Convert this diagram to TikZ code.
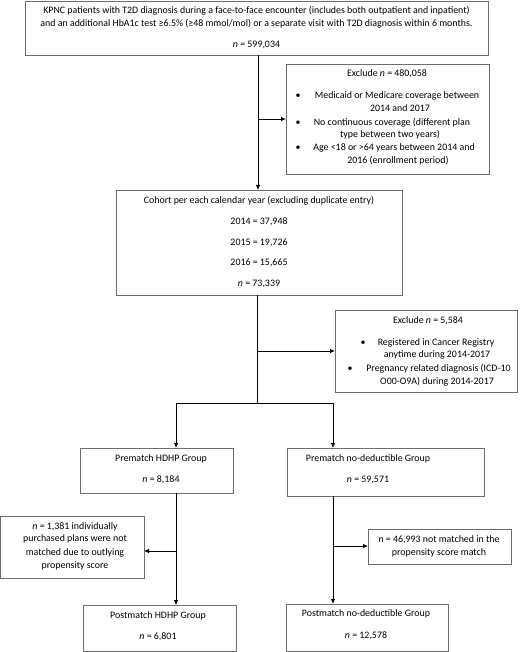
\documentclass[tikz,border=0pt]{standalone}
\usepackage{fontspec}
\setmainfont{Carlito}
\usetikzlibrary{arrows.meta}
\definecolor{boxgray}{HTML}{6E6E6E}
\tikzset{
  boxline/.style={draw=boxgray, line width=0.9pt},
  txt/.style={inner sep=0pt, align=center, font=\fontsize{9.9}{11}\selectfont},
  bul/.style={inner sep=0pt, font=\fontsize{9.9}{11}\selectfont},
  conn/.style={line width=0.8pt, black},
  arr/.style={conn, -{Latex[length=5pt,width=4.5pt]}}
}
\begin{document}
\begin{tikzpicture}[x=1pt,y=-1pt]
\useasboundingbox (0,0) rectangle (520,652);
% top box
\draw[boxline] (25,1) rectangle (488,55);
\node[txt] (t1) at (256.5,11) {KPNC patients with T2D diagnosis during a face-to-face encounter (includes both outpatient and inpatient)};
\node[txt] (t2) at (256.5,24) {and an additional HbA1c test ≥6.5\% (≥48 mmol/mol) or a separate visit with T2D diagnosis within 6 months.};
\node[txt] (t3) at (256.5,45) {\textit{n} = 599,034};
\coordinate (topb) at (258,55);

% exclude 1
\draw[boxline] (286,64) rectangle (489,174);
\coordinate (ex1l) at (286,119);
\node[txt] (e1) at (387,74) {Exclude \textit{n} = 480,058};
\node[bul] (b1) at (298,96) {•};
\node[txt] (e1a) at (397,96) {Medicaid or Medicare coverage between};
\node[txt] (e1b) at (400,108) {2014 and 2017};
\node[bul] (b2) at (298,123) {•};
\node[txt] (e1c) at (392,123) {No continuous coverage (different plan};
\node[txt] (e1d) at (390,135) {type between two years)};
\node[bul] (b3) at (298,148) {•};
\node[txt] (e1e) at (394,148) {Age <18 or >64 years between 2014 and};
\node[txt] (e1f) at (398,161) {2016 (enrollment period)};

% cohort
\draw[boxline] (116,190) rectangle (402,295);
\coordinate (cohT) at (258,190);
\coordinate (cohB) at (257,295);
\node[txt] (c1) at (259,201) {Cohort per each calendar year (excluding duplicate entry)};
\node[txt] (c2) at (259,222) {2014 = 37,948};
\node[txt] (c3) at (259,243) {2015 = 19,726};
\node[txt] (c4) at (259,263) {2016 = 15,665};
\node[txt] (c5) at (259,284) {\textit{n} = 73,339};

% exclude 2
\draw[boxline] (335,310) rectangle (517,392);
\coordinate (ex2l) at (335,351);
\node[txt] (x1) at (428,321) {Exclude \textit{n} = 5,584};
\node[bul] (xb1) at (363,343) {•};
\node[txt] (x2) at (436,343) {Registered in Cancer Registry};
\node[txt] (x3) at (437,355) {anytime during 2014-2017};
\node[bul] (xb2) at (350,369) {•};
\node[txt] (x4) at (438.5,369) {Pregnancy related diagnosis (ICD-10};
\node[txt] (x5) at (437,382) {O00-O9A) during 2014-2017};

% prematch
\draw[boxline] (80,448) rectangle (233,493);
\node[txt] (p1) at (161,459) {Prematch HDHP Group};
\node[txt] (p2) at (161,480) {\textit{n} = 8,184};
\draw[boxline] (287,448) rectangle (484,496);
\node[txt] (q1) at (368,459) {Prematch no-deductible Group};
\node[txt] (q2) at (368,480) {\textit{n} = 59,571};

% side excludes
\draw[boxline] (0.5,516) rectangle (144,578);
\node[txt] (l1) at (75,527) {\textit{n} = 1,381 individually};
\node[txt] (l2) at (75,539) {purchased plans were not};
\node[txt] (l3) at (75,553) {matched due to outlying};
\node[txt] (l4) at (75,566) {propensity score};

\draw[boxline] (368,529) rectangle (511,564);
\node[txt] (r1) at (439,540) {\textit{n} = 46,993 not matched in the};
\node[txt] (r2) at (439,553) {propensity score match};

% postmatch
\draw[boxline] (83,605) rectangle (236,651.5);
\node[txt] (s1) at (158,616) {Postmatch HDHP Group};
\node[txt] (s2) at (158,637) {\textit{n} = 6,801};
\draw[boxline] (286,604) rectangle (448,651.5);
\node[txt] (u1) at (366,614) {Postmatch no-deductible Group};
\node[txt] (u2) at (366,636) {\textit{n} = 12,578};

% connectors
\coordinate (j1) at (258,119);
\draw[arr] (topb) -- (cohT);
\draw[arr] (j1) -- (ex1l);
\coordinate (j2) at (257,351);
\coordinate (j3) at (257,403);
\coordinate (hl) at (176,403);
\coordinate (hr) at (333,403);
\draw[conn] (cohB) -- (j3);
\draw[arr] (j2) -- (ex2l);
\draw[conn] (hl) -- (hr);
\coordinate (pt1) at (176,448);
\coordinate (pt2) at (333,448);
\draw[arr] (hl) -- (pt1);
\draw[arr] (hr) -- (pt2);
\coordinate (pb1) at (176,493);
\coordinate (pb2) at (333,496);
\coordinate (st1) at (176,605);
\coordinate (st2) at (333,604);
\coordinate (jl) at (176,551);
\coordinate (lr) at (144,551);
\coordinate (jr) at (333,546);
\coordinate (rl) at (368,546);
\draw[arr] (pb1) -- (st1);
\draw[arr] (jl) -- (lr);
\draw[arr] (pb2) -- (st2);
\draw[arr] (jr) -- (rl);
\end{tikzpicture}
\end{document}
